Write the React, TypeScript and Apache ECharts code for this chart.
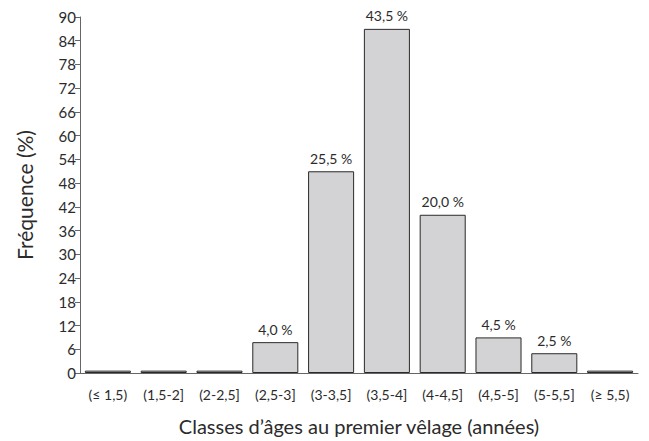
import React, { useEffect, useRef } from "react";
import * as echarts from "echarts";

const categories = ["(≤ 1,5)", "(1,5-2]", "(2-2,5]", "(2,5-3]", "(3-3,5]", "(3,5-4]", "(4-4,5]", "(4,5-5]", "(5-5,5]", "(≥ 5,5)"];
const barHeights = [0.6, 0.6, 0.6, 7.8, 51, 87, 40, 9, 5, 0.6];
const barLabels = ["", "", "", "4,0 %", "25,5 %", "43,5 %", "20,0 %", "4,5 %", "2,5 %", ""];
const yTicks = [0, 6, 12, 18, 24, 30, 36, 42, 48, 54, 60, 66, 72, 78, 84, 90];

export default function App() {
  const ref = useRef<HTMLDivElement>(null);
  useEffect(() => {
    const chart = echarts.init(ref.current!, null, { renderer: "svg" });
    chart.setOption({
      animation: false,
      backgroundColor: "#ffffff",
      grid: { left: 80, right: 11, top: 17, bottom: 66 },
      xAxis: {
        type: "category",
        data: categories,
        name: "Classes d’âges au premier vêlage (années)",
        nameLocation: "middle",
        nameGap: 43,
        nameTextStyle: { fontFamily: "Lato", fontSize: 20, color: "#2b2b2b" },
        axisLine: { lineStyle: { color: "#666", width: 1 } },
        axisTick: { show: false },
        axisLabel: { fontFamily: "Lato", fontSize: 14, color: "#2b2b2b", margin: 14, interval: 0 },
      },
      yAxis: {
        type: "value",
        min: yTicks[0],
        max: yTicks[yTicks.length - 1],
        interval: 6,
        name: "Fréquence (%)",
        nameLocation: "middle",
        nameGap: 45,
        nameTextStyle: { fontFamily: "Lato", fontSize: 21, color: "#2b2b2b" },
        axisLine: { show: true, lineStyle: { color: "#666", width: 1 } },
        axisTick: { show: true, length: 5, lineStyle: { color: "#666" } },
        axisLabel: { fontFamily: "Lato", fontSize: 15, color: "#2b2b2b", margin: 4 },
        splitLine: { show: false },
      },
      series: [
        {
          type: "bar",
          data: barHeights,
          barCategoryGap: "17.5%",
          itemStyle: { color: "#d3d3d5", borderColor: "#2a2a2a", borderWidth: 1 },
          label: {
            show: true,
            position: "top",
            distance: 6,
            fontFamily: "Lato",
            fontSize: 14,
            color: "#2b2b2b",
            formatter: (p: any) => barLabels[p.dataIndex],
          },
        },
      ],
    });
    return () => chart.dispose();
  }, []);
  return <div ref={ref} style={{ position: "fixed", left: 0, top: 0, width: 649, height: 441 }} />;
}
